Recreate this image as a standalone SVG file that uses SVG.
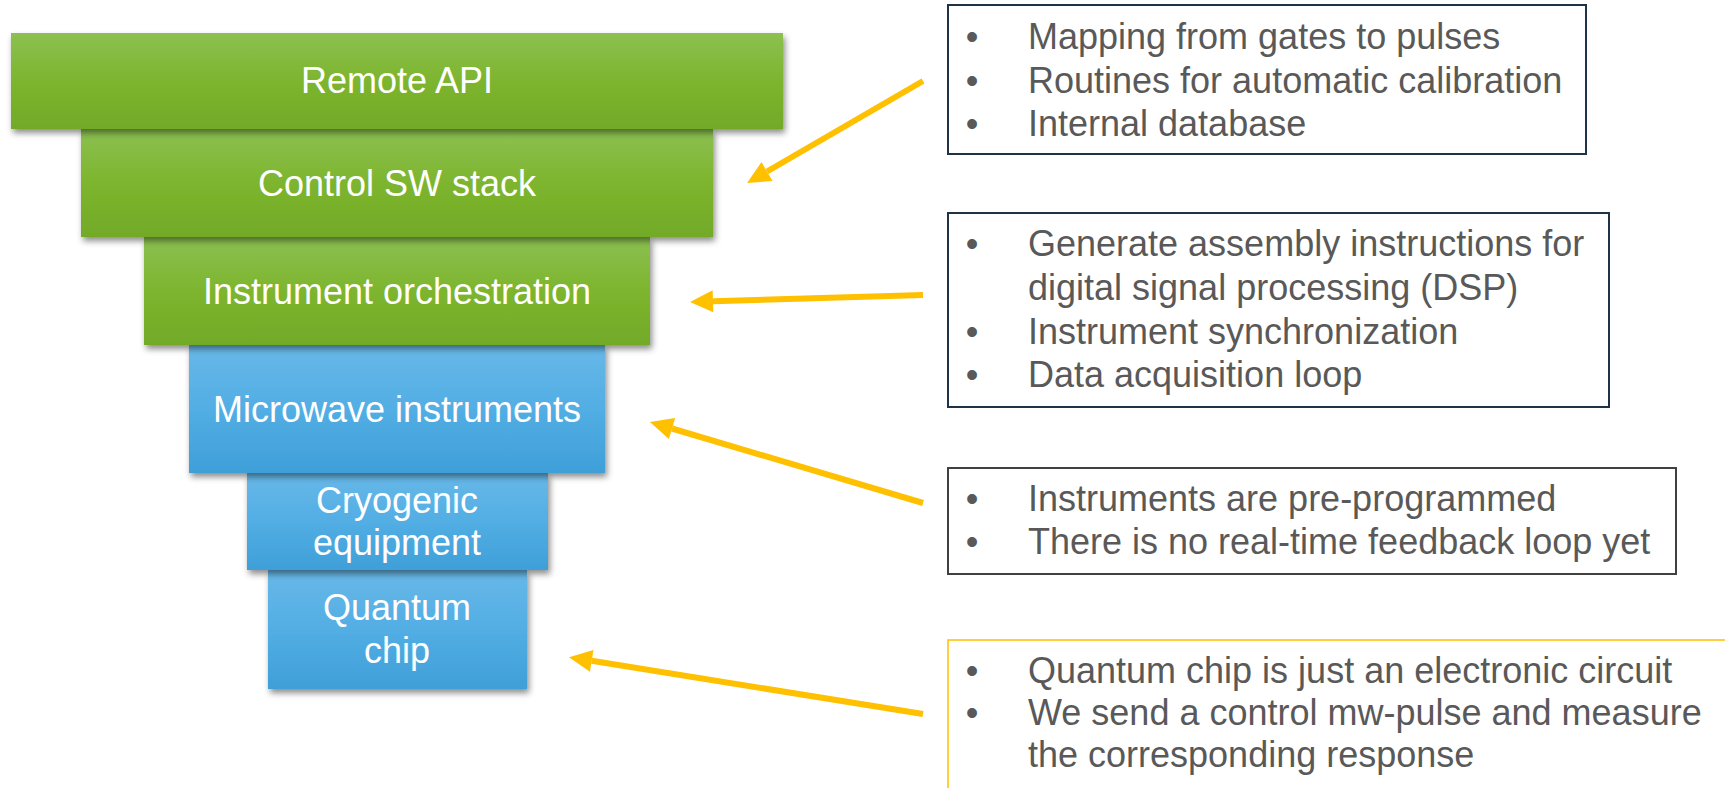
<svg xmlns="http://www.w3.org/2000/svg" width="1725" height="788" viewBox="0 0 1725 788">
  <style>
    .lbl { font-family: "Liberation Sans", Arial, sans-serif; font-size: 36px; fill: #ffffff; text-anchor: middle; }
    .note { font-family: "Liberation Sans", Arial, sans-serif; font-size: 36px; fill: #595959; }
    .bul { text-anchor: middle; }
    .green { fill: url(#gGreen); filter: url(#shadow); }
    .blue { fill: url(#gBlue); filter: url(#shadow); }
    .arrow { stroke: #FFC000; stroke-width: 6; fill: none; marker-end: url(#head); }
  </style>
  <defs>
    <linearGradient id="gGreen" x1="0" y1="0" x2="0" y2="1">
      <stop offset="0" stop-color="#8CC052"/>
      <stop offset="0.5" stop-color="#7DB52E"/>
      <stop offset="1" stop-color="#72AA28"/>
    </linearGradient>
    <linearGradient id="gBlue" x1="0" y1="0" x2="0" y2="1">
      <stop offset="0" stop-color="#68B8E8"/>
      <stop offset="0.5" stop-color="#52AEE4"/>
      <stop offset="1" stop-color="#3F9FD8"/>
    </linearGradient>
    <filter id="shadow" x="-5%" y="-10%" width="115%" height="130%">
      <feDropShadow dx="2" dy="4" stdDeviation="3" flood-color="#000" flood-opacity="0.45"/>
    </filter>
    <marker id="head" markerUnits="userSpaceOnUse" markerWidth="23" markerHeight="23" refX="0" refY="11" orient="auto" overflow="visible">
      <path d="M0,0 L23,11 L0,22 z" fill="#FFC000"/>
    </marker>
  </defs>

  <!-- stack layers, drawn bottom-up so each upper layer casts its shadow on the one below -->
  <g id="quantum-chip">
    <rect class="blue" x="268" y="570" width="259" height="119"/>
    <text class="lbl" x="397" y="620">Quantum</text>
    <text class="lbl" x="397" y="663">chip</text>
  </g>
  <g id="cryogenic-equipment">
    <rect class="blue" x="247" y="473" width="301" height="97"/>
    <text class="lbl" x="397" y="513">Cryogenic</text>
    <text class="lbl" x="397" y="555">equipment</text>
  </g>
  <g id="microwave-instruments">
    <rect class="blue" x="189" y="345" width="416" height="128"/>
    <text class="lbl" x="397" y="422">Microwave instruments</text>
  </g>
  <g id="instrument-orchestration">
    <rect class="green" x="144" y="237" width="506" height="108"/>
    <text class="lbl" x="397" y="304">Instrument orchestration</text>
  </g>
  <g id="control-sw-stack">
    <rect class="green" x="81" y="129" width="632" height="108"/>
    <text class="lbl" x="397" y="196">Control SW stack</text>
  </g>
  <g id="remote-api">
    <rect class="green" x="11" y="33" width="772" height="96"/>
    <text class="lbl" x="397" y="93">Remote API</text>
  </g>

  <!-- annotation boxes -->
  <g id="note-sw">
    <rect x="948" y="5" width="638" height="149" fill="#fff" stroke="#1F3347" stroke-width="2"/>
    <text class="note bul" x="972" y="49">•</text>
    <text class="note" x="1028" y="49">Mapping from gates to pulses</text>
    <text class="note bul" x="972" y="92.5">•</text>
    <text class="note" x="1028" y="92.5">Routines for automatic calibration</text>
    <text class="note bul" x="972" y="136">•</text>
    <text class="note" x="1028" y="136">Internal database</text>
  </g>
  <g id="note-orchestration">
    <rect x="948" y="213" width="661" height="194" fill="#fff" stroke="#1F3347" stroke-width="2"/>
    <text class="note bul" x="972" y="256">•</text>
    <text class="note" x="1028" y="256">Generate assembly instructions for</text>
    <text class="note" x="1028" y="300">digital signal processing (DSP)</text>
    <text class="note bul" x="972" y="344">•</text>
    <text class="note" x="1028" y="344">Instrument synchronization</text>
    <text class="note bul" x="972" y="387">•</text>
    <text class="note" x="1028" y="387">Data acquisition loop</text>
  </g>
  <g id="note-instruments">
    <rect x="948" y="468" width="728" height="106" fill="#fff" stroke="#404040" stroke-width="2"/>
    <text class="note bul" x="972" y="511">•</text>
    <text class="note" x="1028" y="511">Instruments are pre-programmed</text>
    <text class="note bul" x="972" y="554">•</text>
    <text class="note" x="1028" y="554">There is no real-time feedback loop yet</text>
  </g>
  <g id="note-chip">
    <rect x="948" y="640" width="790" height="160" fill="#fff" stroke="#FFC000" stroke-width="1.5"/>
    <text class="note bul" x="972" y="683">•</text>
    <text class="note" x="1028" y="683">Quantum chip is just an electronic circuit</text>
    <text class="note bul" x="972" y="725">•</text>
    <text class="note" x="1028" y="725">We send a control mw-pulse and measure</text>
    <text class="note" x="1028" y="767">the corresponding response</text>
  </g>

  <!-- connectors -->
  <g id="connectors">
    <line class="arrow" x1="923" y1="81" x2="767" y2="171.5"/>
    <line class="arrow" x1="923" y1="295" x2="713" y2="301.3"/>
    <line class="arrow" x1="923" y1="503" x2="672" y2="428.5"/>
    <line class="arrow" x1="923" y1="714" x2="591.7" y2="660.8"/>
  </g>
</svg>
